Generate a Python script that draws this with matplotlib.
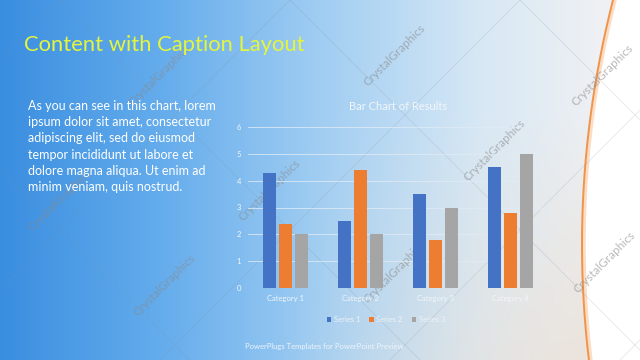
import numpy as np
import matplotlib
matplotlib.use('Agg')
import matplotlib.pyplot as plt

# chart data
categories = ['Category 1', 'Category 2', 'Category 3', 'Category 4']
series_names = ['Series 1', 'Series 2', 'Series 3']
series_1 = [4.3, 2.5, 3.5, 4.5]
series_2 = [2.4, 4.4, 1.8, 2.8]
series_3 = [2.0, 2.0, 3.0, 5.0]
y_ticks = [0, 1, 2, 3, 4, 5, 6]

title_text = 'Content with Caption Layout'
body_text = ('As you can see in this chart, lorem\n'
             'ipsum dolor sit amet, consectetur\n'
             'adipiscing elit, sed do eiusmod\n'
             'tempor incididunt ut labore et\n'
             'dolore magna aliqua. Ut enim ad\n'
             'minim veniam, quis nostrud.')
footer_text = 'PowerPlugs Templates for PowerPoint Preview'
colors = ['#4472c4', '#ed7d31', '#a5a5a5']

plt.rcParams['font.family'] = ['Lato', 'DejaVu Sans']

W, H = 640, 360
fig = plt.figure(figsize=(6.4, 3.6), dpi=100)

# background gradient
bg = fig.add_axes([0, 0, 1, 1])
xs = np.linspace(0, 1, W)
ys = np.linspace(0, 1, H)
X, Y = np.meshgrid(xs, ys)
stops_x = [0.0, 0.25, 0.5, 0.75, 0.93]
stops_c = np.array([[58, 142, 224], [100, 172, 236], [160, 205, 242],
                    [215, 232, 245], [238, 240, 243]]) / 255.0
img = np.zeros((H, W, 3))
for k in range(3):
    img[..., k] = np.interp(X, stops_x, stops_c[:, k])
# warm tint bottom right
warm = np.clip((X - 0.45) / 0.5, 0, 1) * np.clip((Y - 0.3) / 0.7, 0, 1)
warm_c = np.array([236, 224, 212]) / 255.0
for k in range(3):
    img[..., k] = img[..., k] * (1 - 0.8 * warm) + warm_c[k] * 0.8 * warm

# white area right of the orange curve (smooth quadratic through a few points)
curve_y = np.array([0, 100, 200, 267, 360])
curve_x = np.array([612, 595, 583, 580, 590])
coef = np.polyfit(curve_y, curve_x, 2)
rows = np.arange(H)
cx = np.polyval(coef, rows)
mask = np.arange(W)[None, :] > cx[:, None]
img[mask] = 1.0
bg.imshow(img, extent=[0, W, H, 0], aspect='auto')
yy = np.linspace(0, 360, 200)
bg.plot(np.polyval(coef, yy) + 2, yy, color='#f8c79e', lw=2.5, alpha=0.6)
bg.plot(np.polyval(coef, yy), yy, color='#f0944a', lw=1.4)

# faint diagonal watermark lines
for x0 in range(-400, 1000, 230):
    bg.plot([x0, x0 + 360], [0, 360], color='#8090a0', lw=0.5, alpha=0.25)
    bg.plot([x0, x0 - 360], [0, 360], color='#8090a0', lw=0.5, alpha=0.25)

# watermark text
wm_pos = [(160, 75), (395, 55), (603, 75), (60, 200), (270, 190), (495, 150),
          (165, 285), (395, 272), (605, 262)]
for (wx, wy) in wm_pos:
    bg.text(wx, wy, 'CrystalGraphics', rotation=45, color='#8a8a8a', alpha=0.6,
            fontsize=8.5, ha='center', va='center')
bg.set_xlim(0, W)
bg.set_ylim(H, 0)
bg.axis('off')

# slide texts
bg.text(24, 45, title_text, color='#e3f53c', fontsize=15.8, ha='left', va='center')
bg.text(28, 100, body_text, color='white', fontsize=9.0, ha='left', va='top',
        linespacing=1.42)
bg.text(245, 347, footer_text, color='#eef4fb', fontsize=5.5, ha='left', va='center')

# bar chart
ax = fig.add_axes([248 / W, 72 / H, 300 / W, 161 / H])
ax.patch.set_alpha(0)
x = np.arange(len(categories))
bw = 0.18
off = 0.215
for i, (vals, name) in enumerate(zip([series_1, series_2, series_3], series_names)):
    ax.bar(x + (i - 1) * off, vals, bw, color=colors[i], label=name, zorder=3)
ax.set_xlim(-0.5, len(categories) - 0.5)
ax.set_ylim(0, 6)
ax.set_yticks(y_ticks)
ax.set_xticks(x)
ax.set_xticklabels(categories)
ax.tick_params(axis='both', length=0, labelsize=5.5, colors='#f2f6fa', pad=5)
ax.grid(axis='y', color='#e0ebf5', lw=0.7, alpha=0.8, zorder=0)
for s in ax.spines.values():
    s.set_visible(False)
ax.axhline(0, color='#d5e0ea', lw=0.8, zorder=2)
ax.set_title('Bar Chart of Results', color='#f2f6fa', fontsize=8, pad=12)
ax.legend(loc='upper center', bbox_to_anchor=(0.46, -0.13), ncol=3, frameon=False,
          fontsize=5.5, labelcolor='#eef2f6', handlelength=0.6, handleheight=0.6,
          columnspacing=1.2, handletextpad=0.3)

fig.savefig('out.png', dpi=100)
